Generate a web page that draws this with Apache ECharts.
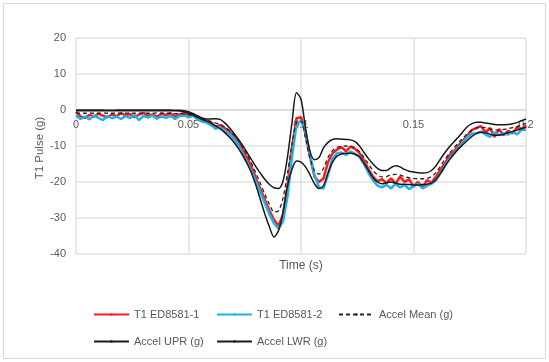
<!DOCTYPE html>
<html>
<head>
<meta charset="utf-8">
<script src="https://cdn.jsdelivr.net/npm/echarts@6/dist/echarts.min.js"></script>
<style>html,body{margin:0;padding:0;background:#fff}#c{width:549px;height:362px}</style>
</head>
<body>
<div id="c"></div>
<script>
var timeS = [0,0.002,0.004,0.006,0.008,0.01,0.012,0.014,0.016,0.018,
0.02,0.022,0.024,0.026,0.028,0.03,0.032,0.034,0.036,0.038,
0.04,0.042,0.044,0.046,0.048,0.05,0.052,0.054,0.056,0.058,
0.06,0.062,0.064,0.066,0.068,0.07,0.072,0.074,0.076,0.078,
0.08,0.082,0.084,0.086,0.088,0.09,0.092,0.094,0.096,0.098,
0.1,0.102,0.104,0.106,0.108,0.11,0.112,0.114,0.116,0.118,
0.12,0.122,0.124,0.126,0.128,0.13,0.132,0.134,0.136,0.138,
0.14,0.142,0.144,0.146,0.148,0.15,0.152,0.154,0.156,0.158,
0.16,0.162,0.164,0.166,0.168,0.17,0.172,0.174,0.176,0.178,
0.18,0.182,0.184,0.186,0.188,0.19,0.192,0.194,0.196,0.198,0.2];

var t1ed1 = [-0.5,-1.8,-2.2,-1.3,-1.9,-1.0,-1.6,-2.0,-1.2,-1.7,
-0.9,-1.5,-1.1,-2.0,-1.3,-0.8,-1.6,-1.2,-1.9,-1.0,
-1.4,-0.9,-1.7,-1.2,-0.8,-1.4,-1.1,-2.0,-2.6,-3.0,
-3.4,-4.6,-4.2,-5.0,-5.8,-7.2,-8.3,-11.0,-13.2,-15.8,
-19.0,-22.0,-25.0,-28.0,-30.5,-32.2,-29.0,-21.0,-10.5,-2.3,
-2.0,-6.5,-13.0,-18.5,-20.0,-19.0,-14.5,-12.0,-11.0,-10.3,
-11.5,-10.2,-10.8,-12.0,-14.0,-16.5,-18.5,-19.8,-19.2,-20.3,
-19.0,-20.5,-18.5,-20.0,-19.2,-21.2,-20.0,-21.5,-19.5,-20.2,
-18.5,-16.5,-14.8,-12.5,-11.5,-9.8,-8.5,-7.0,-5.5,-5.0,
-4.5,-6.2,-5.0,-7.5,-5.3,-7.0,-5.8,-6.5,-4.8,-5.5,-4.2];

var t1ed2 = [-1.5,-2.5,-1.8,-2.6,-1.5,-2.2,-2.8,-1.6,-2.3,-1.8,
-2.5,-1.7,-2.2,-1.4,-2.8,-1.6,-2.1,-1.5,-2.4,-1.8,
-2.2,-1.6,-2.5,-1.7,-1.5,-2.0,-1.6,-2.6,-3.2,-3.5,
-4.2,-5.2,-4.8,-5.8,-6.5,-7.8,-9.5,-12.0,-14.5,-17.0,
-20.0,-23.0,-26.0,-29.0,-31.5,-33.0,-31.0,-24.0,-13.0,-4.0,
-3.0,-6.0,-12.5,-18.0,-21.5,-21.8,-18.0,-13.5,-12.0,-11.8,
-12.5,-11.5,-12.2,-13.0,-15.0,-17.5,-19.5,-21.0,-21.5,-20.8,
-21.8,-20.5,-21.5,-20.8,-22.0,-21.2,-20.5,-21.8,-21.0,-20.5,
-19.5,-17.5,-15.5,-13.5,-12.0,-10.5,-9.0,-7.5,-6.5,-6.5,
-6.0,-6.8,-7.5,-6.2,-7.0,-6.5,-6.8,-6.0,-6.8,-5.5,-5.5];

var accelMean = [-0.8,-0.9,-0.9,-0.8,-0.9,-0.9,-0.8,-0.9,-0.9,-0.8,
-0.9,-0.9,-0.8,-0.9,-0.9,-0.8,-0.9,-0.9,-0.8,-0.9,
-0.9,-0.9,-1.0,-1.0,-1.1,-1.2,-1.6,-2.0,-2.5,-2.9,
-3.2,-3.6,-4.0,-4.7,-5.6,-6.8,-8.3,-10.2,-12.3,-14.8,
-17.6,-20.5,-23.5,-26.2,-28.3,-28.0,-24.5,-17.5,-9.5,-3.5,
-3.0,-8.0,-13.5,-16.8,-17.8,-16.2,-13.2,-11.3,-10.4,-10.1,
-10.0,-10.1,-10.5,-11.5,-13.2,-15.0,-16.8,-18.0,-18.6,-18.5,
-18.0,-17.9,-18.1,-18.5,-18.8,-19.0,-19.1,-19.1,-19.0,-18.5,
-17.4,-15.6,-13.7,-12.0,-10.5,-9.1,-7.8,-6.5,-5.6,-5.0,
-4.8,-4.9,-5.2,-5.5,-5.6,-5.4,-5.2,-4.9,-4.6,-4.1,-3.7];

var accelUpr = [0,0,0,0,0,0,0,-0.1,-0.1,0,
0,0,0,0,0,0,0,0,0,0,
0,0,-0.1,-0.1,-0.2,-0.5,-1.0,-1.6,-2.2,-2.5,
-2.5,-2.4,-2.6,-3.5,-4.8,-6.3,-8.0,-9.8,-11.8,-13.8,
-15.8,-17.6,-19.3,-20.7,-21.6,-21.8,-19.8,-13.0,-3.5,4.8,
3.0,-5.0,-11.5,-13.8,-13.2,-10.5,-9.0,-8.2,-8.0,-8.1,
-8.2,-8.3,-8.8,-10.0,-11.8,-13.5,-15.0,-16.2,-16.8,-16.8,
-16.0,-15.5,-15.8,-16.5,-17.0,-17.2,-17.4,-17.5,-17.4,-16.8,
-15.5,-13.6,-11.8,-10.2,-8.8,-7.5,-6.0,-4.6,-3.8,-3.4,
-3.4,-3.6,-3.8,-4.0,-4.1,-4.1,-4.0,-3.8,-3.5,-3.0,-2.5];

var accelLwr = [-0.2,-0.2,-0.2,-0.2,-0.2,-0.2,-0.2,-0.2,-0.2,-0.2,
-0.2,-0.2,-0.2,-0.2,-0.2,-0.2,-0.2,-0.2,-0.2,-0.2,
-0.2,-0.2,-0.2,-0.3,-0.5,-0.9,-1.4,-2.0,-2.6,-3.1,
-3.7,-4.4,-5.2,-6.2,-7.4,-8.8,-10.5,-12.5,-14.8,-17.5,
-21.0,-25.0,-29.0,-32.5,-35.3,-33.5,-28.5,-21.0,-16.5,-14.2,
-14.5,-15.8,-18.0,-20.5,-21.8,-21.0,-17.5,-14.5,-12.8,-12.2,
-12.0,-12.0,-12.3,-13.0,-14.8,-16.8,-18.8,-20.0,-20.5,-20.2,
-20.0,-20.3,-20.6,-20.6,-20.7,-20.8,-20.8,-20.7,-20.6,-20.3,
-19.3,-17.6,-15.6,-13.8,-12.2,-10.8,-9.6,-8.4,-7.3,-6.5,
-6.2,-6.3,-6.7,-7.0,-7.0,-6.7,-6.3,-6.0,-5.6,-5.2,-4.8];

var seriesNames = ['T1 ED8581-1','T1 ED8581-2','Accel Mean (g)','Accel UPR (g)','Accel LWR (g)'];
var yTicks = {min:-40, max:20, interval:10};
var xTicks = {min:0, max:0.2, interval:0.05};

function pairs(vals){ return timeS.map(function(t,i){ return [t, vals[i]]; }); }

var FONT = 'Liberation Sans';
var TXT = '#595959';
var chart = echarts.init(document.getElementById('c'), null, {renderer:'canvas'});

function lg(name, left, top){
  return {data:[name], left:left, top:top, orient:'horizontal', itemWidth:35, itemHeight:3, itemGap:0,
    textStyle:{color:TXT, fontFamily:FONT, fontSize:11}, selectedMode:false};
}

chart.setOption({
  animation:false,
  backgroundColor:'#ffffff',
  grid:{left:76, right:23, top:38, bottom:108, containLabel:false},
  xAxis:[{type:'value', min:xTicks.min, max:xTicks.max, interval:xTicks.interval, position:'bottom', offset:-144,
    axisLine:{show:true, onZero:false, lineStyle:{color:'#d9d9d9', width:1.5}},
    axisTick:{show:false},
    axisLabel:{color:TXT, fontFamily:FONT, fontSize:11, margin:9, showMinLabel:true, showMaxLabel:true},
    splitLine:{show:true, lineStyle:{color:'#e0e0e0', width:1.5}}}],
  yAxis:{type:'value', min:yTicks.min, max:yTicks.max, interval:yTicks.interval,
    axisLine:{show:false}, axisTick:{show:false},
    axisLabel:{color:TXT, fontFamily:FONT, fontSize:11, margin:10},
    splitLine:{show:true, lineStyle:{color:'#e0e0e0', width:1.5}}},
  legend:[
    lg(seriesNames[0], 88, 304), lg(seriesNames[1], 211, 304), lg(seriesNames[2], 333, 304),
    lg(seriesNames[3], 88, 331), lg(seriesNames[4], 211, 331)
  ],
  graphic:[
    {type:'rect', shape:{x:3.5, y:3.5, width:542, height:355}, style:{fill:null, stroke:'#d9d9d9', lineWidth:1}, silent:true, z:-10},
    {type:'text', x:301, y:266, style:{text:'Time (s)', fill:TXT, font:'12px "Liberation Sans"', textAlign:'center', textVerticalAlign:'middle'}},
    {type:'text', x:40, y:148, rotation:Math.PI/2, style:{text:'T1 Pulse (g)', fill:TXT, font:'11.5px "Liberation Sans"', textAlign:'center', textVerticalAlign:'middle'}}
  ],
  series:[
    {name:seriesNames[0], type:'line', data:pairs(t1ed1), symbol:'none', lineStyle:{color:'#ff1a1a', width:2.5}, itemStyle:{color:'#ff1a1a'}},
    {name:seriesNames[1], type:'line', data:pairs(t1ed2), symbol:'none', lineStyle:{color:'#1fb0ec', width:2.5}, itemStyle:{color:'#1fb0ec'}},
    {name:seriesNames[2], type:'line', data:pairs(accelMean), symbol:'none', smooth:0.3, lineStyle:{color:'#262626', width:1.3, type:[4,3]}, itemStyle:{color:'#262626'}},
    {name:seriesNames[3], type:'line', data:pairs(accelUpr), symbol:'none', smooth:0.3, lineStyle:{color:'#1a1a1a', width:1.5}, itemStyle:{color:'#1a1a1a'}},
    {name:seriesNames[4], type:'line', data:pairs(accelLwr), symbol:'none', smooth:0.3, lineStyle:{color:'#1a1a1a', width:1.5}, itemStyle:{color:'#1a1a1a'}}
  ]
});
</script>
</body>
</html>
